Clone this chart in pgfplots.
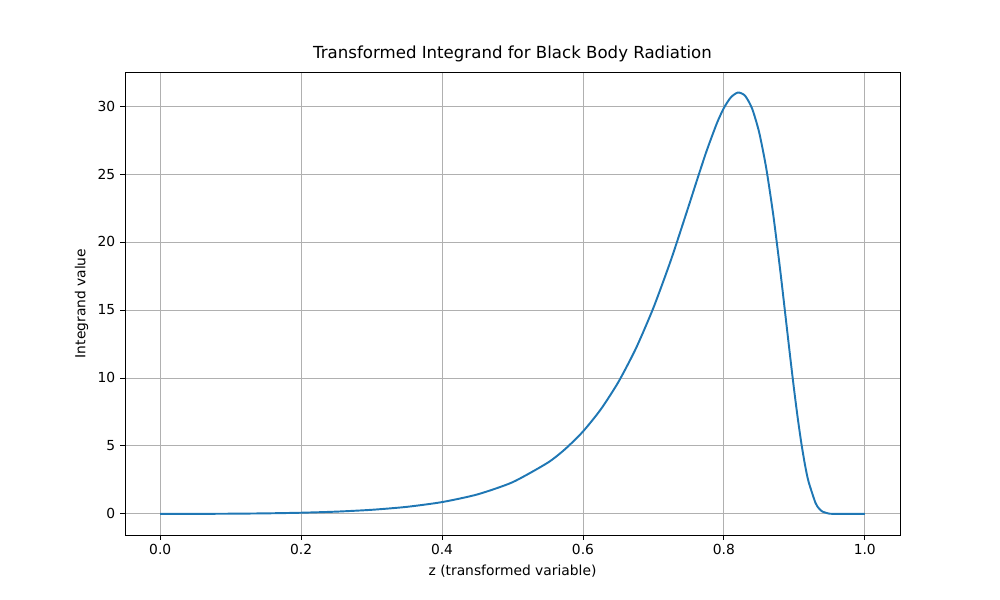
\documentclass[border=0pt]{standalone}
\usepackage{pgfplots}
\pgfplotsset{compat=1.18}
\usepackage{fontspec}
\setmainfont{DejaVu Sans}
\usetikzlibrary{calc}
\definecolor{mplblue}{HTML}{1F77B4}
\begin{document}
\begin{tikzpicture}
\begin{axis}[name=ax, scale only axis, width=560.1pt, height=334.6pt,
  xmin=-0.05, xmax=1.05, ymin=-1.55, ymax=32.5,
  xtick={0,0.2,0.4,0.6,0.8,1.0}, xticklabels={0.0,0.2,0.4,0.6,0.8,1.0},
  ytick={0,5,10,15,20,25,30},
  grid=major, major grid style={color=black!31, line width=0.6pt},
  tick style={black, line width=0.6pt}, tick align=outside, major tick length=3.5pt,
  xtick pos=bottom, ytick pos=left,
  /pgf/number format/assume math mode=true,
  tick label style={font=\fontsize{10}{12}\selectfont},
  label style={font=\fontsize{10}{12}\selectfont},
  title style={font=\fontsize{12}{14}\selectfont, yshift=-2pt},
  title={Transformed Integrand for Black Body Radiation},
  xlabel={z (transformed variable)}, ylabel={Integrand value},
  axis line style={line width=0.6pt}]
\addplot[mplblue, line width=1.4pt, smooth, tension=0.4] coordinates {
(0,0) (0.05,0.003) (0.1,0.0144) (0.15,0.0394) (0.2,0.086) (0.25,0.1664) (0.3,0.3002)
(0.35,0.518) (0.4,0.8684) (0.45,1.4298) (0.5,2.328) (0.55,3.765) (0.575,4.779)
(0.6,6.058) (0.625,7.666) (0.65,9.672) (0.675,12.15) (0.7,15.158) (0.725,18.69)
(0.75,22.635) (0.76,24.25) (0.775,26.62) (0.79,28.72) (0.8,29.85) (0.81,30.64)
(0.82,30.99) (0.83,30.76) (0.84,29.82) (0.85,28.08) (0.86,25.47) (0.87,22.03)
(0.88,17.91) (0.89,13.41) (0.895,11.165) (0.9,8.998) (0.905,6.987) (0.91,5.184)
(0.915,3.648) (0.92,2.407) (0.93,0.813) (0.935,0.3987) (0.94,0.1677) (0.95,0.0154)
(0.96,0.0003) (0.97,0) (1.0,0)};
\end{axis}
\path ($(ax.south west)+(-90.34pt,-46.97pt)$) rectangle ($(ax.north east)+(72.27pt,52.03pt)$);
\end{tikzpicture}
\end{document}
